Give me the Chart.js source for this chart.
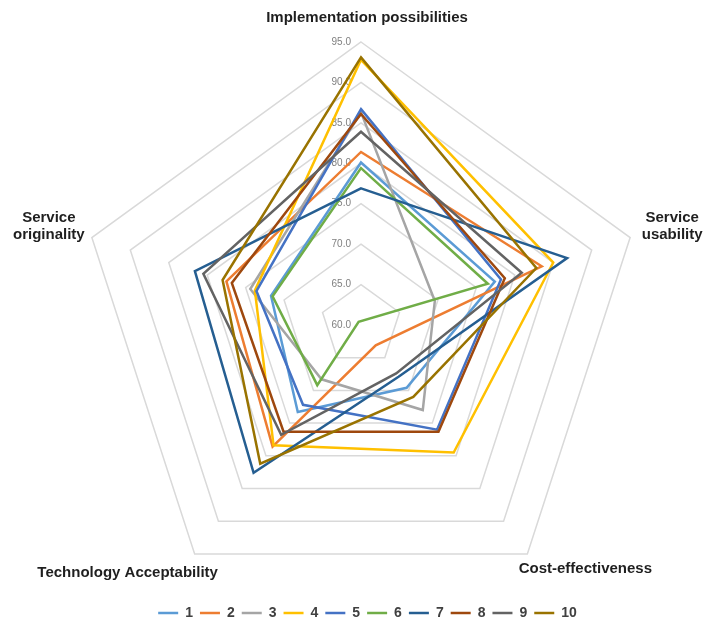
<!DOCTYPE html>
<html>
<head>
<meta charset="utf-8">
<title>Evaluation radar</title>
<script src="https://cdn.jsdelivr.net/npm/chart.js@4/dist/chart.umd.min.js"></script>
<style>
  html, body { margin: 0; padding: 0; background: #ffffff; }
  #wrap { width: 705px; height: 631px; position: relative; }
</style>
</head>
<body>
<div id="wrap"><canvas id="radar"></canvas></div>
<script>
// Evaluation criteria (axes, clockwise from the top)
const categories = [
  'Implementation possibilities',
  ['Service', 'usability'],
  'Cost-effectiveness',
  'Technology Acceptability',
  ['Service', 'originality']
];

// Scale range and tick step
const scaleMin = 60;
const scaleMax = 95;
const scaleStep = 5;

// Series names and scores per criterion
const seriesNames = ['1', '2', '3', '4', '5', '6', '7', '8', '9', '10'];
const s1  = [80.1, 77.4, 69.6, 73.3, 71.7];
const s2  = [81.4, 83.5, 63.1, 78.6, 77.5];
const s3  = [86.3, 69.6, 73.0, 68.3, 74.4];
const s4  = [92.8, 85.0, 79.5, 78.4, 73.8];
const s5  = [86.7, 78.2, 76.0, 72.2, 73.6];
const s6  = [79.4, 76.5, 59.5, 69.2, 71.5];
const s7  = [76.9, 86.8, 67.9, 82.6, 81.6];
const s8  = [86.1, 78.7, 76.3, 76.3, 76.8];
const s9  = [83.9, 80.9, 67.4, 76.8, 80.5];
const s10 = [93.1, 82.8, 71.0, 81.2, 78.0];
const seriesValues = [s1, s2, s3, s4, s5, s6, s7, s8, s9, s10];

// Styling
const seriesColors = ['#5B9BD5', '#ED7D31', '#A5A5A5', '#FFC000', '#4472C4',
                      '#70AD47', '#255E91', '#9E480E', '#636363', '#997300'];
const WEB = { cx: 361, cy: 325, radius: 283 };
const TICK_FONT = '10px "Liberation Sans", Arial, sans-serif';
const TICK_COLOR = '#7f7f7f';
const TICK_GAP = 10;
const CATEGORY_FONT = 'bold 15px "Liberation Sans", Arial, sans-serif';
const CATEGORY_COLOR = '#1f1f1f';
const CATEGORY_LINE_GAP = 17;
// label centre relative to the outer vertex of each axis
const LABEL_OFFSETS = [[6, -24], [42, -11], [58, 15], [-67, 19], [-43, -11]];

// Tick values beside the vertical axis and the criterion names around the web
const webLabels = {
  id: 'webLabels',
  beforeDatasetsDraw(chart) {
    const scale = chart.scales.r;
    const ctx = chart.ctx;
    ctx.save();
    ctx.font = TICK_FONT;
    ctx.fillStyle = TICK_COLOR;
    ctx.textAlign = 'right';
    ctx.textBaseline = 'middle';
    scale.ticks.forEach(t => {
      const d = scale.getDistanceFromCenterForValue(t.value);
      ctx.fillText(t.value.toFixed(1), scale.xCenter - TICK_GAP, scale.yCenter - d);
    });
    ctx.font = CATEGORY_FONT;
    ctx.fillStyle = CATEGORY_COLOR;
    ctx.textAlign = 'center';
    categories.forEach((name, i) => {
      const p = scale.getPointPosition(i, scale.drawingArea);
      const [dx, dy] = LABEL_OFFSETS[i];
      const lines = Array.isArray(name) ? name : [name];
      lines.forEach((line, k) => {
        const off = (k - (lines.length - 1) / 2) * CATEGORY_LINE_GAP;
        ctx.fillText(line, p.x + dx, p.y + dy + off);
      });
    });
    ctx.restore();
  }
};

const datasets = seriesNames.map((name, i) => ({
  label: name,
  data: seriesValues[i],
  borderColor: seriesColors[i],
  backgroundColor: seriesColors[i],
  borderWidth: 2.5,
  borderJoinStyle: 'miter',
  fill: false,
  pointRadius: 0,
  pointHoverRadius: 0,
  clip: false,
  order: seriesNames.length - i
}));

new Chart(document.getElementById('radar'), {
  type: 'radar',
  data: { labels: categories, datasets },
  plugins: [webLabels],
  options: {
    responsive: true,
    maintainAspectRatio: false,
    animation: false,
    layout: { padding: { left: 30, right: 0, top: 0, bottom: 1 } },
    elements: { line: { tension: 0 } },
    scales: {
      r: {
        min: scaleMin,
        max: scaleMax,
        ticks: { stepSize: scaleStep, display: false },
        grid: { color: '#d9d9d9', lineWidth: 1.5 },
        angleLines: { display: false },
        pointLabels: { display: false },
        afterFit(scale) {
          scale.xCenter = WEB.cx;
          scale.yCenter = WEB.cy;
          scale.drawingArea = WEB.radius;
        }
      }
    },
    plugins: {
      tooltip: { enabled: false },
      legend: {
        position: 'bottom',
        labels: {
          usePointStyle: true,
          pointStyle: 'line',
          pointStyleWidth: 20,
          padding: 7,
          color: '#404040',
          font: { family: '"Liberation Sans", Arial, sans-serif', size: 14, weight: 'bold' },
          sort: (a, b) => a.datasetIndex - b.datasetIndex
        }
      }
    }
  }
});
</script>
</body>
</html>
